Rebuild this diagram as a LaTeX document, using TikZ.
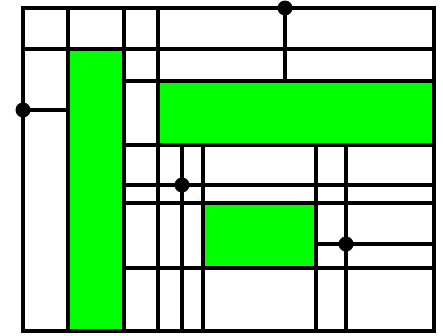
\documentclass[tikz,border=0pt]{standalone}
\usepackage{tikz}

\begin{document}
\begin{tikzpicture}[
	x=1pt, y=-1pt,
	wall/.style={ draw, line width=3.7pt },
	room/.style={ fill=green, draw, line width=3.7pt },
	port/.style={ circle, fill, inner sep=0pt, minimum size=15pt }
]
\useasboundingbox (0,0) rectangle (443,335);

\fill[white] (0,0) rectangle (443,335);
\path[room] (68,49) rectangle (124,331);
\path[room] (158,81) rectangle (434,145);
\path[room] (203,203) rectangle (316,268);

\draw[wall] (23,8) rectangle (434,331);
\foreach \x in {68,124,158} \draw[wall] (\x,8) -- (\x,331);
\foreach \x in {182,203,316,346} \draw[wall] (\x,145) -- (\x,331);
\draw[wall] (23,49) -- (434,49);
\foreach \y in {81,145,185,203,268} \draw[wall] (124,\y) -- (434,\y);

\node at (285,8) (ptop) [port] {};
\node at (23,110) (pleft) [port] {};
\node at (182,185) (pmid) [port] {};
\node at (346,244) (pright) [port] {};
\coordinate (etop) at (285,81);
\coordinate (eleft) at (68,110);
\coordinate (erighta) at (316,244);
\coordinate (erightb) at (434,244);
\draw[wall] (ptop.center) -- (etop);
\draw[wall] (pleft.center) -- (eleft);
\draw[wall] (erighta) -- (pright.center) -- (erightb);

\end{tikzpicture}
\end{document}
